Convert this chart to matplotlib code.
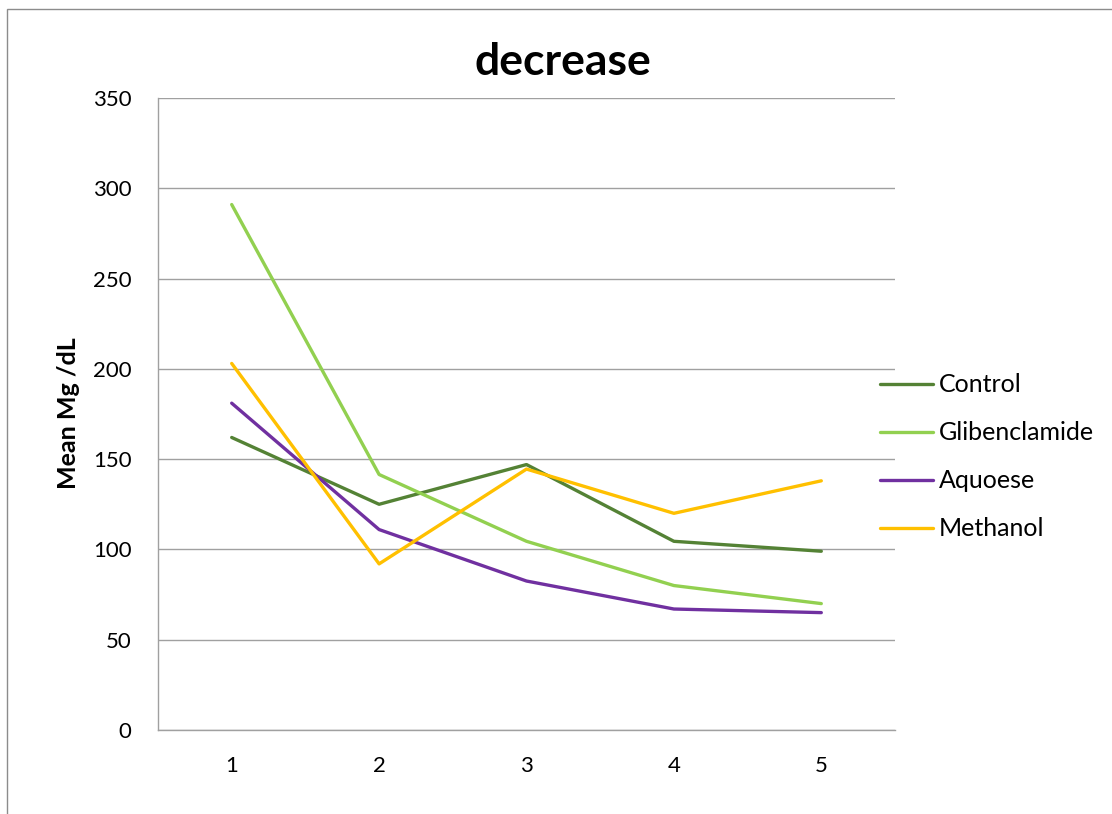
import matplotlib
matplotlib.use("Agg")
import matplotlib.pyplot as plt
from matplotlib.patches import Rectangle

# Dados das medições por grupo
dias = [1, 2, 3, 4, 5]
controle = [162, 125, 147, 104.5, 99]
glibenclamida = [291, 141.5, 104.5, 80, 70]
aquoso = [181, 111, 82.5, 67, 65]
metanol = [203, 92, 144.5, 120, 138]

series = [
    ("Control", controle, "#548235"),
    ("Glibenclamide", glibenclamida, "#92D050"),
    ("Aquoese", aquoso, "#7030A0"),
    ("Methanol", metanol, "#FFC000"),
]

plt.rcParams["font.family"] = ["Lato", "DejaVu Sans"]

fig = plt.figure(figsize=(11.12, 8.14), dpi=100)
ax = fig.add_axes([158 / 1112, 84 / 814, 737 / 1112, 632 / 814])

for nome, valores, cor in series:
    ax.plot(dias, valores, color=cor, linewidth=2.4, label=nome, solid_capstyle="round")

ax.set_xlim(0.5, 5.5)
ax.set_ylim(0, 350)
ax.set_yticks(range(0, 351, 50))
ax.set_xticks(dias)
ax.tick_params(axis="both", length=0, labelsize=16)
ax.tick_params(axis="y", pad=19)
ax.tick_params(axis="x", pad=19)

ax.grid(True, axis="y", color="#a0a0a0", linewidth=1)
ax.set_axisbelow(True)
for lado in ["top", "right"]:
    ax.spines[lado].set_visible(False)
for lado in ["left", "bottom"]:
    ax.spines[lado].set_color("#a0a0a0")
    ax.spines[lado].set_linewidth(1)

# Rótulo do eixo y e título posicionados na figura
fig.text(69 / 1112, 1 - 413 / 814, "Mean Mg /dL", fontsize=18, fontweight="bold",
         rotation=90, ha="center", va="center")
fig.text(563 / 1112, 1 - 62 / 814, "decrease", fontsize=32, fontweight="bold",
         ha="center", va="center")

ax.legend(loc="center left", bbox_to_anchor=(0.98, 0.432), frameon=False,
          fontsize=18, handlelength=2.1, handletextpad=0.25, labelspacing=1.0,
          borderpad=0, borderaxespad=0)

# Moldura externa do gráfico
fig.patches.append(Rectangle((7 / 1112, -0.05), 1.1, 1 - 9 / 814 + 0.05,
                             transform=fig.transFigure, fill=False,
                             edgecolor="#8c8c8c", linewidth=1))

fig.savefig("out.png", dpi=100)
